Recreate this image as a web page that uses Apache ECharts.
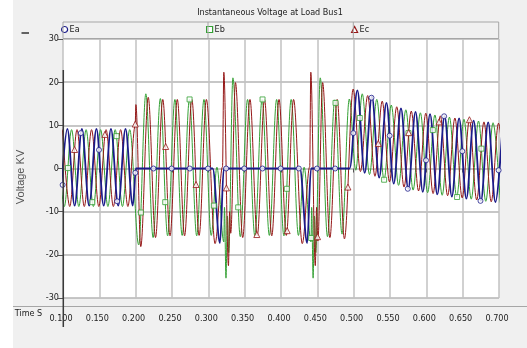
<!DOCTYPE html>
<html>
<head>
<meta charset="utf-8">
<title>Instantaneous Voltage at Load Bus1</title>
<script src="https://cdn.jsdelivr.net/npm/echarts@6/dist/echarts.min.js"></script>
<style>
  html, body { margin: 0; padding: 0; background: #ffffff; }
  #chart { width: 527px; height: 348px; }
</style>
</head>
<body>
<div id="chart"></div>
<script>
// Phase voltages (kV) at Load Bus1 against time (s).
// Each wave is listed by its turning points; the line is smoothed between them.
const seriesNames = ['Ea', 'Eb', 'Ec'];

const eaWave = [
  [0.0960,-8.6],[0.1060,9.2],[0.1160,-8.6],[0.1260,9.2],[0.1360,-8.6],[0.1460,9.2],
  [0.1560,-8.6],[0.1660,9.2],[0.1760,-8.6],[0.1860,9.2],[0.1960,-8.6],[0.2005,0],
  [0.3060,0],[0.3160,-17.3],[0.3213,0],
  [0.4260,0],[0.4360,-17.3],[0.4413,0],
  [0.4945,0],[0.5051,18.1],[0.5151,-1.0],[0.5251,16.7],[0.5351,-2.1],[0.5451,15.2],
  [0.5551,-3.5],[0.5651,13.9],[0.5751,-4.7],[0.5851,13.1],[0.5951,-5.4],[0.6051,12.6],
  [0.6151,-6.0],[0.6251,12.1],[0.6351,-6.5],[0.6451,11.6],[0.6551,-7.0],[0.6651,11.1],
  [0.6751,-7.5],[0.6851,10.7],[0.6951,-7.8],[0.7051,10.4]
];

const ebWave = [
  [0.0918,9.0],[0.1018,-8.8],[0.1118,9.0],[0.1218,-8.8],[0.1318,9.0],[0.1418,-8.8],
  [0.1518,9.0],[0.1618,-8.8],[0.1718,9.0],[0.1818,-8.8],[0.1918,9.0],
  [0.2042,-17.7],[0.2140,17.3],[0.2240,-16.0],[0.2340,16.2],[0.2440,-15.6],[0.2540,16.0],
  [0.2640,-15.5],[0.2740,16.0],[0.2840,-15.6],[0.2940,16.0],[0.3040,-15.5],
  [0.3118,0.3],[0.3213,-17.0],[0.3222,-9.0],[0.3243,-25.4],[0.3262,-11.0],[0.3280,-19.5],[0.3338,21.0],
  [0.3440,-15.8],[0.3540,16.0],[0.3640,-15.6],[0.3740,16.0],[0.3840,-15.5],[0.3940,16.0],
  [0.4040,-15.6],[0.4140,16.0],[0.4240,-15.5],
  [0.4318,0.3],[0.4413,-17.0],[0.4422,-9.0],[0.4442,-25.4],[0.4460,-11.0],[0.4478,-19.5],[0.4540,21.0],
  [0.4640,-15.8],[0.4740,15.9],[0.4840,-15.2],[0.4940,16.1],
  [0.5029,-0.4],[0.5118,17.3],[0.5218,-1.4],[0.5318,16.0],[0.5418,-2.6],[0.5518,14.7],
  [0.5618,-3.9],[0.5718,13.6],[0.5818,-5.0],[0.5918,12.9],[0.6018,-5.6],[0.6118,12.4],
  [0.6218,-6.2],[0.6318,11.9],[0.6418,-6.6],[0.6518,11.4],[0.6618,-7.1],[0.6718,11.0],
  [0.6818,-7.6],[0.6918,10.6],[0.7018,-7.9]
];

const ecWave = [
  [0.0993,9.0],[0.1093,-8.8],[0.1193,9.0],[0.1293,-8.8],[0.1393,9.0],[0.1493,-8.8],
  [0.1593,9.0],[0.1693,-8.8],[0.1793,9.0],[0.1893,-8.8],[0.1993,9.9],[0.2003,14.8],[0.2070,-18.1],
  [0.2173,16.5],[0.2273,-16.0],[0.2373,16.0],[0.2473,-15.6],[0.2573,16.0],[0.2673,-15.6],
  [0.2773,16.0],[0.2873,-15.5],[0.2973,16.0],
  [0.3093,-17.4],[0.3195,0.4],[0.3213,22.3],[0.3277,-22.5],[0.3293,-10.0],[0.3308,-15.0],[0.3373,19.9],
  [0.3473,-16.0],[0.3573,16.0],[0.3673,-15.6],[0.3773,16.0],[0.3873,-15.6],[0.3973,16.0],
  [0.4073,-15.5],[0.4173,16.0],
  [0.4293,-17.4],[0.4395,0.4],[0.4410,22.3],[0.4472,-22.5],[0.4490,-9.0],[0.4507,-16.8],[0.4573,19.9],
  [0.4673,-16.0],[0.4773,16.0],[0.4873,-16.3],
  [0.4993,18.4],[0.5093,-0.7],[0.5193,16.9],[0.5293,-1.8],[0.5393,15.6],[0.5493,-3.1],
  [0.5593,14.3],[0.5693,-4.3],[0.5793,13.3],[0.5893,-5.2],[0.5993,12.8],[0.6093,-5.8],
  [0.6193,12.2],[0.6293,-6.3],[0.6393,11.7],[0.6493,-6.8],[0.6593,11.3],[0.6693,-7.3],
  [0.6793,10.8],[0.6893,-7.7],[0.6993,10.5],[0.7093,-8.0]
];

// Sample markers drawn along each trace.
const eaMarks = [
  [0.0995,-3.8],[0.1245,8.2],[0.1495,4.3],[0.1745,-7.6],[0.1995,-1.0],[0.2245,0],[0.2495,0],
  [0.2745,0],[0.2995,0],[0.3245,0],[0.3495,0],[0.3745,0],[0.3995,0],[0.4245,0],[0.4495,0],
  [0.4745,0],[0.4995,8.2],[0.5245,16.4],[0.5495,7.6],[0.5745,-4.7],[0.5995,1.9],[0.6245,12.1],
  [0.6495,4.0],[0.6745,-7.5],[0.6995,-0.4]
];
const ebMarks = [
  [0.1068,0.1],[0.1403,-7.8],[0.1737,7.5],[0.2072,-10.2],[0.2407,-7.8],[0.2742,16.0],
  [0.3076,-8.6],[0.3411,-9.0],[0.3746,16.0],[0.4080,-4.7],[0.4415,-16.1],[0.4750,15.2],
  [0.5084,11.7],[0.5419,-2.6],[0.5754,8.2],[0.6089,8.9],[0.6423,-6.6],[0.6758,4.6]
];
const ecMarks = [
  [0.1159,4.4],[0.1577,7.9],[0.1995,10.3],[0.2413,5.1],[0.2831,-3.7],[0.3249,-4.5],
  [0.3667,-15.3],[0.4085,-14.4],[0.4503,-15.8],[0.4921,-4.3],[0.5339,5.8],[0.5757,8.3],
  [0.6175,10.8],[0.6593,11.3]
];

const colors = ['#1b1b8a', '#34a034', '#951818'];
const icons = ['circle', 'rect', 'triangle'];
const FONT = "'Liberation Sans Narrow', 'Arial Narrow', 'DejaVu Sans Condensed', 'Liberation Sans', Arial, sans-serif";

const chart = echarts.init(document.getElementById('chart'), null, { renderer: 'canvas' });

const legendLeft = [61, 206, 351];
const legends = seriesNames.map((name, i) => ({
  left: legendLeft[i],
  top: 25,
  padding: 0,
  itemWidth: 6,
  itemHeight: 6,
  selectedMode: false,
  textStyle: { fontFamily: FONT, fontSize: 9, color: '#222', padding: [0, 0, 0, -3] },
  data: [{
    name: name,
    icon: icons[i],
    itemStyle: { color: '#ffffff', borderColor: colors[i], borderWidth: 1.2 }
  }]
}));

const waves = [eaWave, ebWave, ecWave];
const marks = [eaMarks, ebMarks, ecMarks];
const lineZ = [4, 2, 3];

const series = [];
seriesNames.forEach((name, i) => {
  series.push({
    name: name,
    type: 'line',
    data: waves[i],
    smooth: 0.35,
    smoothMonotone: 'x',
    showSymbol: false,
    silent: true,
    z: lineZ[i],
    lineStyle: { color: colors[i], width: i === 0 ? 1.8 : 1 },
    itemStyle: { color: colors[i] }
  });
});
seriesNames.forEach((name, i) => {
  series.push({
    name: name,
    type: 'scatter',
    data: marks[i],
    symbol: icons[i],
    symbolSize: i === 2 ? 6 : 5,
    clip: false,
    silent: true,
    z: 6,
    itemStyle: { color: '#ffffff', borderColor: colors[i], borderWidth: 1 }
  });
});

const option = {
  animation: false,
  backgroundColor: '#f0f0f0',
  legend: legends,
  grid: {
    left: 63, top: 39, width: 436, height: 259,
    show: true, backgroundColor: '#ffffff', borderWidth: 0
  },
  xAxis: {
    type: 'value',
    min: 0.1, max: 0.7, interval: 0.05,
    offset: 10,
    axisLine: { show: false },
    axisTick: { show: true, length: 4, lineStyle: { color: '#555' } },
    axisLabel: {
      formatter: v => v.toFixed(3),
      fontFamily: FONT, fontSize: 9, color: '#222', margin: 6, padding: [0, 4, 0, 0]
    },
    splitLine: { show: true, lineStyle: { color: '#c2c2c2', width: 1.5 } }
  },
  yAxis: {
    type: 'value',
    min: -30, max: 30, interval: 10,
    axisLine: { show: false },
    axisTick: { show: true, length: 5, lineStyle: { color: '#555' } },
    axisLabel: { fontFamily: FONT, fontSize: 9, color: '#222', margin: 4 },
    splitLine: { show: true, lineStyle: { color: '#b4b4b4', width: 1.5 } }
  },
  graphic: [
    { type: 'rect', shape: { x: 0, y: 0, width: 13, height: 348 }, style: { fill: '#ffffff' }, z: 1, silent: true },
    { type: 'text', x: 270, y: 13, z: 10, silent: true,
      style: { text: 'Instantaneous Voltage at Load Bus1', fontFamily: FONT, fontSize: 9, fill: '#222',
               textAlign: 'center', align: 'center', textVerticalAlign: 'middle', verticalAlign: 'middle' } },
    { type: 'line', shape: { x1: 21.5, y1: 33, x2: 29, y2: 33 }, style: { stroke: '#333', lineWidth: 1.5 }, z: 10, silent: true },
    { type: 'rect', shape: { x: 63, y: 22, width: 435.7, height: 16.5 }, style: { fill: 'none', stroke: '#a6a6a6', lineWidth: 1 }, z: 10, silent: true },
    { type: 'line', shape: { x1: 208, y1: 22, x2: 208, y2: 38.5 }, style: { stroke: '#a6a6a6', lineWidth: 1 }, z: 10, silent: true },
    { type: 'line', shape: { x1: 353.3, y1: 22, x2: 353.3, y2: 38.5 }, style: { stroke: '#a6a6a6', lineWidth: 1 }, z: 10, silent: true },
    { type: 'line', shape: { x1: 13, y1: 306.5, x2: 527, y2: 306.5 }, style: { stroke: '#a6a6a6', lineWidth: 1 }, z: 10, silent: true },
    { type: 'line', shape: { x1: 63.3, y1: 70, x2: 63.3, y2: 327 }, style: { stroke: '#3a3a3a', lineWidth: 1.5 }, z: 10, silent: true },
    { type: 'text', x: 21, y: 177, rotation: Math.PI / 2, z: 10, silent: true,
      style: { text: 'Voltage KV', fontFamily: "'Liberation Sans', Arial, sans-serif", fontSize: 11, fill: '#555',
               textAlign: 'center', align: 'center', textVerticalAlign: 'middle', verticalAlign: 'middle' } },
    { type: 'text', x: 28.5, y: 314, z: 10, silent: true,
      style: { text: 'Time S', fontFamily: FONT, fontSize: 9, fill: '#222',
               textAlign: 'center', align: 'center', textVerticalAlign: 'middle', verticalAlign: 'middle' } }
  ],
  series: series
};

chart.setOption(option);
</script>
</body>
</html>
